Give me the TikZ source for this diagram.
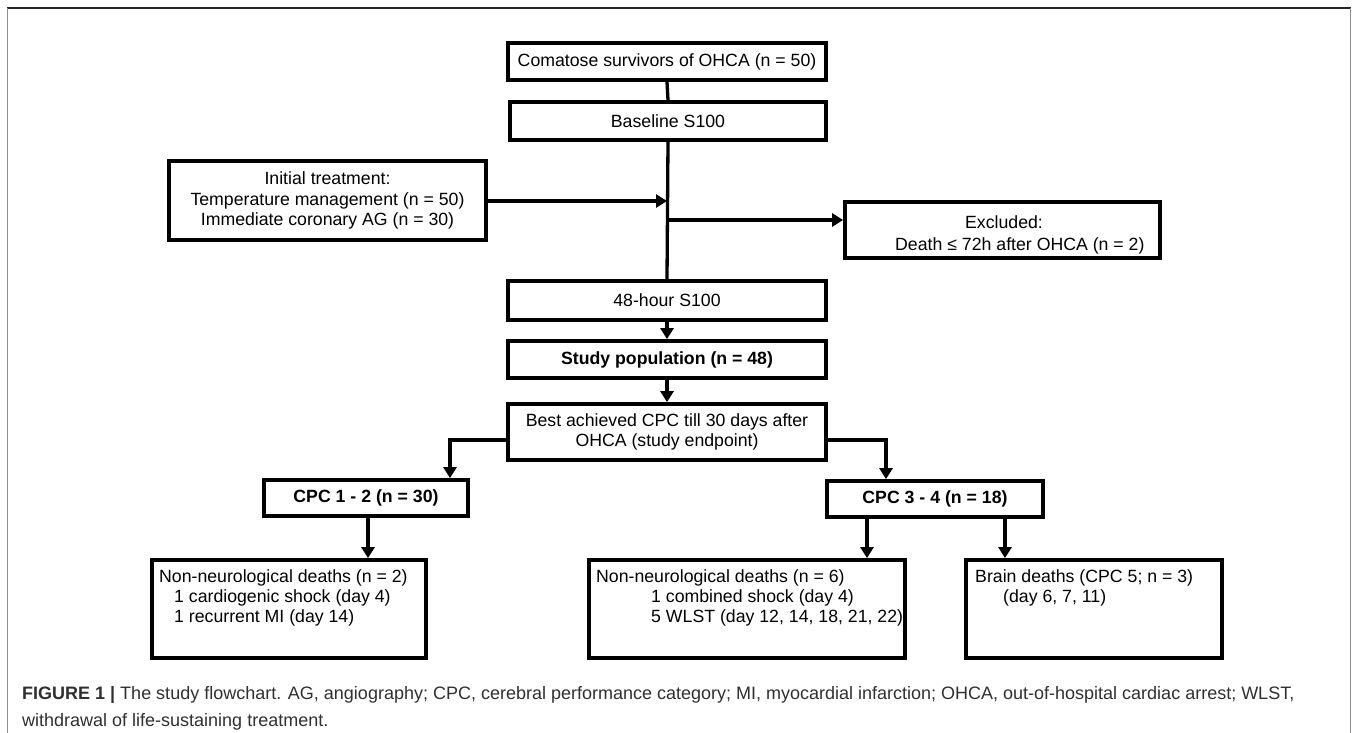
\documentclass[tikz,border=0pt]{standalone}
\usepackage{fontspec}
\setmainfont{Liberation Sans}
\usetikzlibrary{arrows.meta}
\definecolor{captxt}{HTML}{303030}
\newcommand{\bx}[6]{\node[box, minimum width={#4-#2}, minimum height={#5-#3}] (#1) at ({(#2+#4)/2},{(#3+#5)/2}) {#6};}
\begin{document}
\begin{tikzpicture}[x=1pt,y=-1pt,
  box/.style={draw=black, line width=3.8pt, inner sep=0pt, font=\fontsize{17.7}{20.5}\selectfont, align=center},
  txt/.style={inner sep=0pt, font=\fontsize{17.7}{20.3}\selectfont, align=left, anchor=north west},
  conn/.style={line width=3.3pt},
  arr/.style={conn, -{Triangle[length=11pt,width=13pt]}}
]
\useasboundingbox (0,0) rectangle (1358,733);
\fill[white] (0,0) rectangle (1358,733);
% frame
\draw[black!85, line width=1.5pt] (7,8) -- (1351,8);
\draw[black!45, line width=1.5pt] (7.5,8) -- (7.5,733);
\draw[black!45, line width=1.5pt] (1350.5,8) -- (1350.5,733);

\bx{b1}{508}{43}{826}{80}{Comatose survivors of OHCA (n = 50)}
\bx{b2}{510}{102}{826}{140}{Baseline S100}
\bx{init}{169}{161}{486}{240}{Initial treatment:\\Temperature management (n = 50)\\Immediate coronary AG (n = 30)}
\bx{excl}{845}{202}{1160}{258}{}
\node[inner sep=0pt, font=\fontsize{17.7}{20.5}\selectfont, anchor=base] (exclA) at (1004,229) {Excluded:};
\node[inner sep=0pt, font=\fontsize{17.7}{20.5}\selectfont, anchor=base west] (exclB) at (895,250) {Death ≤ 72h after OHCA (n = 2)};
\bx{h48}{508}{281}{826}{320}{48-hour S100}
\bx{study}{508}{341}{826}{378}{\bfseries Study population (n = 48)}
\bx{best}{508}{404}{826}{460}{Best achieved CPC till 30 days after\\OHCA (study endpoint)}
\bx{cpcA}{264}{480}{468}{516}{\bfseries CPC 1 - 2 (n = 30)}
\bx{cpcB}{827}{481}{1043}{517}{\bfseries CPC 3 - 4 (n = 18)}
\bx{lowA}{152}{560}{426}{658}{}
\bx{lowB}{589}{560}{905}{658}{}
\bx{lowC}{966}{560}{1222}{658}{}
\node[txt] (lowAt) at (159,569) {Non-neurological deaths (n = 2)\\\hspace*{15pt}1 cardiogenic shock (day 4)\\\hspace*{15pt}1 recurrent MI (day 14)};
\node[txt] (lowBt) at (596,569) {Non-neurological deaths (n = 6)\\\hspace*{55pt}1 combined shock (day 4)\\\hspace*{55pt}5 WLST (day 12, 14, 18, 21, 22)};
\node[txt] (lowCt) at (975,569) {Brain deaths (CPC 5; n = 3)\\\hspace*{28pt}(day 6, 7, 11)};

% connectors
\draw[conn] (b1.south) -- (b2.north);
\draw[conn] (b2.south) -- (h48.north);
\coordinate (j1) at (667,201);
\coordinate (j2) at (667,220);
\draw[arr] (init.east |- j1) -- (j1);
\draw[arr] (j2) -- (excl.west |- j2);
\draw[arr] (h48.south) -- (study.north);
\draw[arr] (study.south) -- (best.north);
\coordinate (eL) at (450,440);
\coordinate (eR) at (886,440);
\draw[arr] (best.west |- eL) -- (eL) -- (eL |- cpcA.north);
\draw[arr] (best.east |- eR) -- (eR) -- (eR |- cpcB.north);
\draw[arr] (cpcA.south -| 368,0) -- (368,0 |- lowA.north);
\draw[arr] (cpcB.south -| 867,0) -- (867,0 |- lowB.north);
\draw[arr] (cpcB.south -| 1005,0) -- (1005,0 |- lowC.north);

% caption
\node[inner sep=0pt, anchor=base west, align=left, text=captxt, font=\fontsize{18}{27}\selectfont] (cap) at (22,726)
 {\textbf{FIGURE 1 |} The study flowchart. AG, angiography; CPC, cerebral performance category; MI, myocardial infarction; OHCA, out-of-hospital cardiac arrest; WLST,\\withdrawal of life-sustaining treatment.};
\end{tikzpicture}
\end{document}
